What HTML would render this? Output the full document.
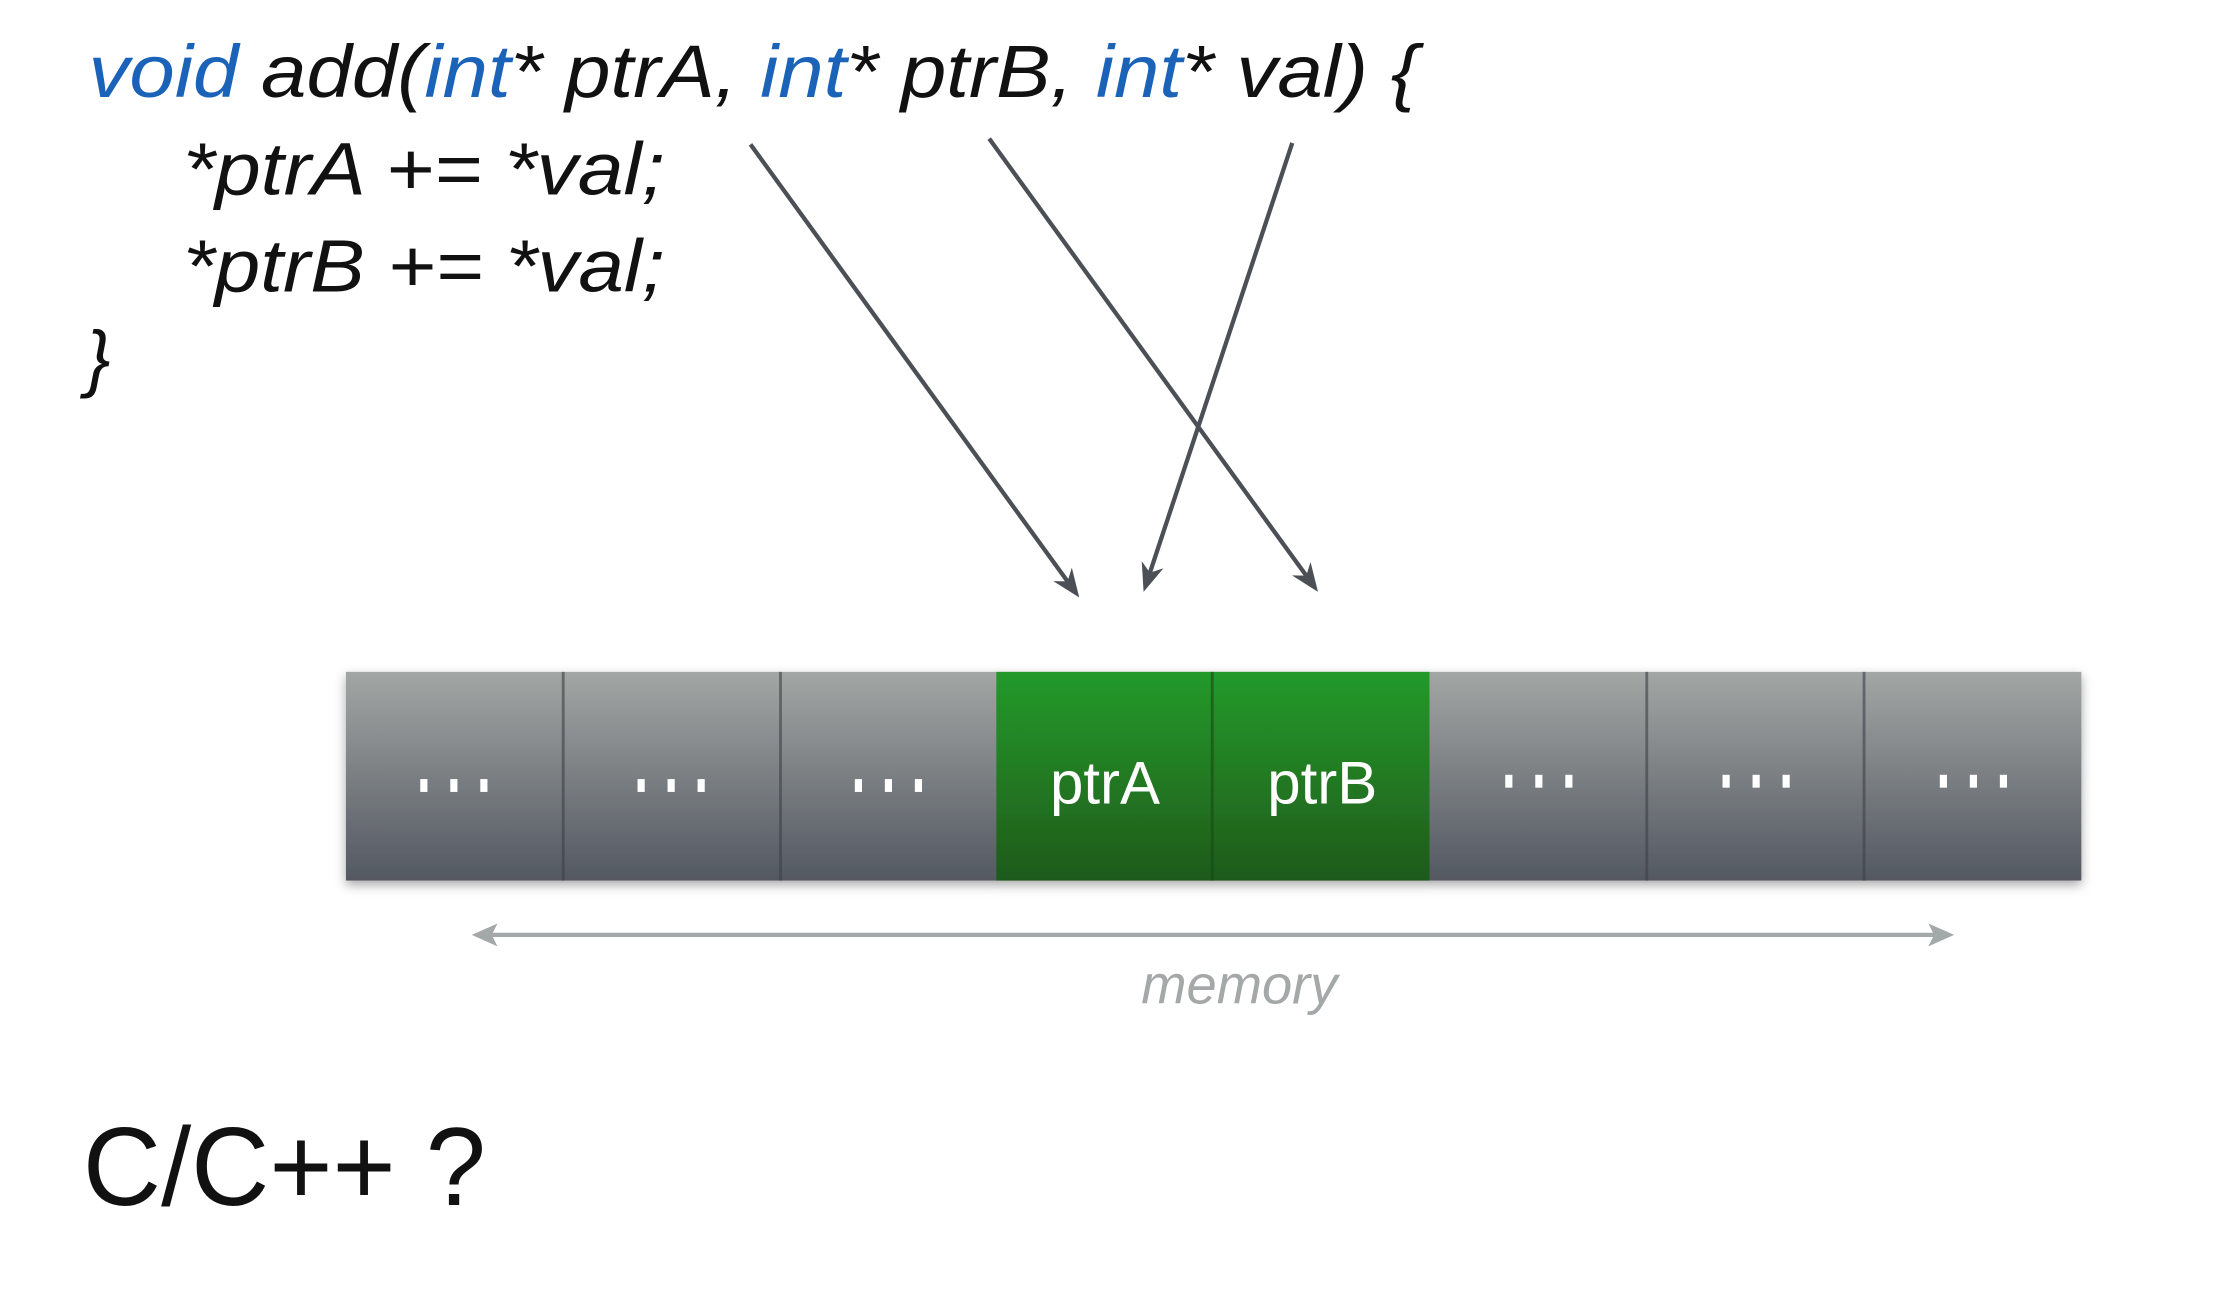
<!DOCTYPE html>
<html><head><meta charset="utf-8"><style>html,body{margin:0;padding:0;background:#fff;width:2230px;height:1308px;overflow:hidden}</style></head>
<body>
<svg width="2230" height="1308" viewBox="0 0 1560 915" preserveAspectRatio="none" xmlns="http://www.w3.org/2000/svg">
<defs>
<linearGradient id="g" x1="0" y1="0" x2="0" y2="1"><stop offset="0" stop-color="#a2a6a4"/><stop offset="1" stop-color="#535861"/></linearGradient>
<linearGradient id="gr" x1="0" y1="0" x2="0" y2="1"><stop offset="0" stop-color="#229a2a"/><stop offset="1" stop-color="#1f5a1b"/></linearGradient>
<filter id="sh" x="-5%" y="-20%" width="110%" height="140%"><feDropShadow dx="0" dy="3" stdDeviation="4" flood-opacity="0.35"/></filter>
</defs>
<g font-family="Liberation Sans, sans-serif" font-style="italic" font-size="52" fill="#111">
<text x="62" y="68" textLength="930" lengthAdjust="spacingAndGlyphs"><tspan fill="#1a63b8">void</tspan> add(<tspan fill="#1a63b8">int</tspan>* ptrA, <tspan fill="#1a63b8">int</tspan>* ptrB, <tspan fill="#1a63b8">int</tspan>* val) {</text>
<text x="128" y="136" textLength="337" lengthAdjust="spacingAndGlyphs">*ptrA += *val;</text>
<text x="128" y="204" textLength="337" lengthAdjust="spacingAndGlyphs">*ptrB += *val;</text>
<text x="60" y="268">}</text>
</g>
<g stroke="#4c5056" stroke-width="3" fill="none">
<line x1="525" y1="101" x2="746.8" y2="406.7"/>
<line x1="692" y1="97" x2="913.8" y2="402.7"/>
<line x1="904" y1="100" x2="804.4" y2="400.7"/>
</g>
<g fill="#4c5056">
<path d="M755,418 L736.8,406.5 L746.8,406.7 L749.8,397.1 Z"/>
<path d="M922,414 L903.8,402.5 L913.8,402.7 L916.8,393.1 Z"/>
<path d="M800,414 L798.7,392.5 L804.4,400.7 L813.9,397.5 Z"/>
</g>
<g filter="url(#sh)">
<rect x="242" y="470" width="1214" height="146" fill="url(#g)"/>
<rect x="697" y="470" width="303" height="146" fill="url(#gr)"/>
</g>
<g stroke="#3e4147" stroke-width="2" opacity="0.6">
<line x1="394" y1="470" x2="394" y2="616"/><line x1="546" y1="470" x2="546" y2="616"/>
<line x1="848" y1="470" x2="848" y2="616" stroke="#174a15"/>
<line x1="1152" y1="470" x2="1152" y2="616"/><line x1="1304" y1="470" x2="1304" y2="616"/>
</g>
<g fill="#fff">
<rect x="294" y="545" width="5" height="9"/><rect x="315" y="545" width="5" height="9"/><rect x="336" y="545" width="5" height="9"/>
<rect x="446" y="545" width="5" height="9"/><rect x="467" y="545" width="5" height="9"/><rect x="488" y="545" width="5" height="9"/>
<rect x="598" y="545" width="5" height="9"/><rect x="619" y="545" width="5" height="9"/><rect x="640" y="545" width="5" height="9"/>
<rect x="1053" y="542" width="5" height="9"/><rect x="1074" y="542" width="5" height="9"/><rect x="1095" y="542" width="5" height="9"/>
<rect x="1205" y="542" width="5" height="9"/><rect x="1226" y="542" width="5" height="9"/><rect x="1247" y="542" width="5" height="9"/>
<rect x="1357" y="542" width="5" height="9"/><rect x="1378" y="542" width="5" height="9"/><rect x="1399" y="542" width="5" height="9"/>
</g>
<g font-family="Liberation Sans, sans-serif" font-size="42" fill="#fff" text-anchor="middle">
<text x="773" y="562">ptrA</text><text x="925" y="562">ptrB</text>
</g>
<line x1="344" y1="654" x2="1353" y2="654" stroke="#a3a8a8" stroke-width="3"/>
<g fill="#a3a8a8">
<path d="M330,654 L348,646 L344,654 L348,662 Z"/>
<path d="M1367,654 L1349,646 L1353,654 L1349,662 Z"/>
</g>
<text x="867" y="702" font-family="Liberation Sans, sans-serif" font-style="italic" font-size="38" fill="#a5a8a8" text-anchor="middle">memory</text>
<text x="58" y="843" font-family="Liberation Sans, sans-serif" font-size="78" fill="#111" textLength="282" lengthAdjust="spacingAndGlyphs">C/C++ ?</text>
</svg>
</body></html>
